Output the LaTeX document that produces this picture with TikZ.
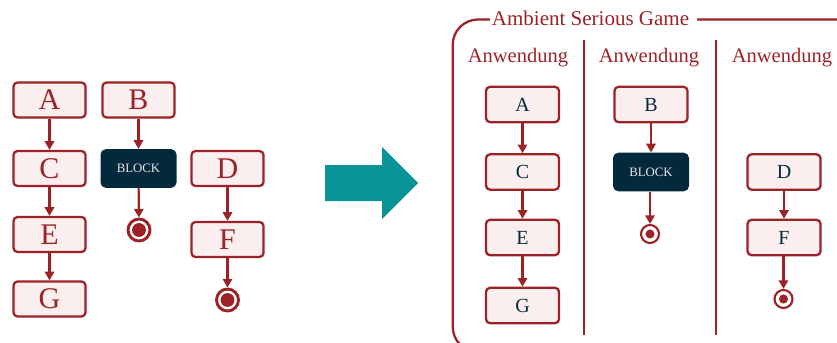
\documentclass[tikz,border=0pt]{standalone}
\usepackage{fontspec}
\setmainfont{Liberation Serif}
\usetikzlibrary{arrows.meta}
\definecolor{dred}{RGB}{155,34,38}
\definecolor{pinkfill}{RGB}{251,238,238}
\definecolor{navy}{RGB}{3,42,60}
\definecolor{teal}{RGB}{10,147,150}
\definecolor{lightgray}{RGB}{232,232,232}
\tikzset{
  lbox/.style={draw=dred, fill=pinkfill, line width=1.7pt, rounded corners=3pt,
    minimum width=54pt, minimum height=26.25pt, inner sep=0pt, text=dred,
    font=\fontsize{22.5}{24}\selectfont},
  rbox/.style={draw=dred, fill=pinkfill, line width=1.7pt, rounded corners=3pt,
    minimum width=54.75pt, minimum height=26.5pt, inner sep=0pt, text=navy,
    font=\fontsize{15}{17}\selectfont},
  lblock/.style={fill=navy, rounded corners=4pt, minimum width=57pt, minimum height=29pt,
    inner sep=0pt, text=lightgray, font=\fontsize{9.6}{11}\selectfont},
  rblock/.style={lblock},
  lend/.style={circle, draw=dred, line width=2.2pt, fill=white, minimum size=16.5pt, inner sep=0pt,
    path picture={\fill[dred] (path picture bounding box.center) circle (5.2pt);}},
  rend/.style={circle, draw=dred, line width=1.6pt, fill=white, minimum size=13.5pt, inner sep=0pt,
    path picture={\fill[dred] (path picture bounding box.center) circle (3.4pt);}},
  conn/.style={draw=dred, line width=1.6pt, -{Triangle[length=6.5pt,width=7pt]}},
  lab/.style={text=dred, font=\fontsize{15.4}{17}\selectfont, inner sep=0pt},
}
\begin{document}
\begin{tikzpicture}[x=0.75pt,y=-0.75pt]
\useasboundingbox (0,0) rectangle (837,342);
% left side
\node[lbox] (A) at (49.5,100) {A};
\node[lbox] (C) at (49.5,168.5) {C};
\node[lbox] (E) at (49.5,234.5) {E};
\node[lbox] (G) at (49.5,299) {G};
\node[lbox] (B) at (138.5,100) {B};
\node[lblock] (BL) at (138.5,168.5) {BLOCK};
\node[lend] (X1) at (139,230) {};
\node[lbox] (D) at (227.5,168.5) {D};
\node[lbox] (F) at (227.5,239.5) {F};
\node[lend] (X2) at (227.5,300) {};
\draw[conn] (A) -- (C);
\draw[conn] (C) -- (E);
\draw[conn] (E) -- (G);
\draw[conn] (B) -- (BL);
\draw[conn] (BL) -- (X1);
\draw[conn] (D) -- (F);
\draw[conn] (F) -- (X2);
% big arrow
\fill[teal] (325,165) -- (382,165) -- (382,147) -- (418,183) -- (382,219) -- (382,201) -- (325,201) -- cycle;
% frame
\begin{scope}
\clip (0,0) rectangle (837,342);
\draw[dred, line width=1.7pt, rounded corners=19pt] (452.7,19.5) rectangle (870,352);
\end{scope}
\fill[white] (490,8) rectangle (697,30);
\node[text=dred, inner sep=0pt, font=\fontsize{15.75}{17}\selectfont] (T) at (590.5,18) {Ambient Serious Game};
\coordinate (d1t) at (584,40);
\coordinate (d1b) at (584,335);
\coordinate (d2t) at (716,40);
\coordinate (d2b) at (716,335);
\draw[dred, line width=1.7pt] (d1t) -- (d1b);
\draw[dred, line width=1.7pt] (d2t) -- (d2b);
\node[lab] (L1) at (518,58) {Anwendung};
\node[lab] (L2) at (649,58) {Anwendung};
\node[lab] (L3) at (782,58) {Anwendung};
% right side
\node[rbox] (rA) at (522.5,104.5) {A};
\node[rbox] (rC) at (522.5,172) {C};
\node[rbox] (rE) at (522.5,237.5) {E};
\node[rbox] (rG) at (522.5,305.5) {G};
\node[rbox] (rB) at (651,104.5) {B};
\node[rblock] (rBL) at (651,172) {BLOCK};
\node[rend] (rX1) at (650,234) {};
\node[rbox] (rD) at (784,172) {D};
\node[rbox] (rF) at (784,237.5) {F};
\node[rend] (rX2) at (783.5,299) {};
\draw[conn] (rA) -- (rC);
\draw[conn] (rC) -- (rE);
\draw[conn] (rE) -- (rG);
\draw[conn] (rB) -- (rBL);
\draw[conn] (rBL.south -| rX1) -- (rX1);
\draw[conn] (rD) -- (rF);
\draw[conn] (rF.south -| rX2) -- (rX2);
\end{tikzpicture}
\end{document}
